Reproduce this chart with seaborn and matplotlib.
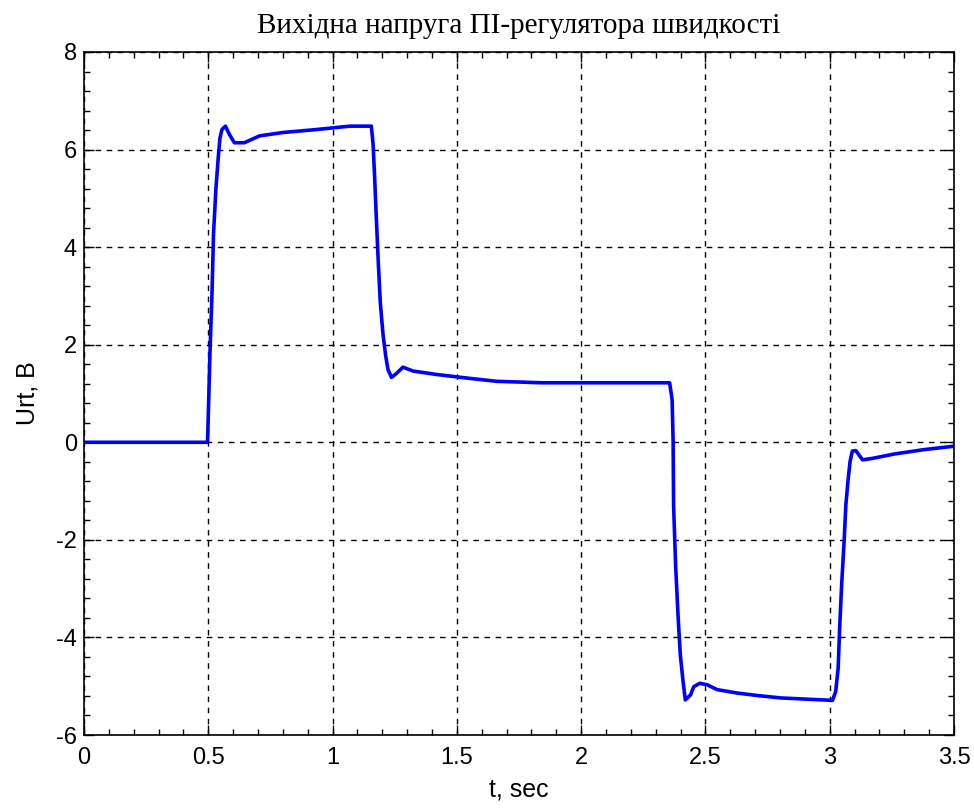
import matplotlib
matplotlib.use("Agg")
import matplotlib.pyplot as plt
from matplotlib.ticker import MultipleLocator
import seaborn as sns
import pandas as pd

# Speed PI-controller output voltage, sampled from the simulation trace
t_sec = [0.0, 0.497, 0.501, 0.507, 0.515, 0.521, 0.531, 0.540, 0.547, 0.555,
         0.569, 0.585, 0.605, 0.645, 0.706, 0.800, 0.934, 1.069, 1.156,
         1.163, 1.169, 1.176, 1.184, 1.192, 1.203, 1.214, 1.223, 1.237,
         1.257, 1.283, 1.324, 1.418, 1.552, 1.660, 1.840, 2.356,
         2.366, 2.370, 2.372, 2.380, 2.390, 2.399, 2.410, 2.419, 2.440,
         2.453, 2.477, 2.507, 2.547, 2.628, 2.708, 2.802, 3.011,
         3.024, 3.034, 3.040, 3.048, 3.058, 3.065, 3.074, 3.082, 3.091,
         3.105, 3.132, 3.172, 3.260, 3.380, 3.500]
u_volt = [0.0, 0.0, 0.74, 1.87, 3.06, 4.27, 5.22, 5.83, 6.24, 6.41,
          6.48, 6.31, 6.14, 6.14, 6.28, 6.35, 6.41, 6.48, 6.48,
          6.11, 5.46, 4.60, 3.68, 2.86, 2.21, 1.76, 1.49, 1.33,
          1.41, 1.54, 1.46, 1.39, 1.31, 1.25, 1.22, 1.22,
          0.87, 0.02, -1.31, -2.51, -3.57, -4.36, -4.90, -5.28, -5.18,
          -5.01, -4.94, -4.97, -5.07, -5.14, -5.19, -5.24, -5.29,
          -5.11, -4.63, -3.81, -2.92, -2.02, -1.28, -0.77, -0.39, -0.18,
          -0.17, -0.36, -0.33, -0.24, -0.15, -0.08]

title_text = "Вихідна напруга ПІ-регулятора швидкості"
x_label = "t, sec"
y_label = "Urt, B"

df = pd.DataFrame({"t": t_sec, "u": u_volt})

sns.set_style("white")
plt.rcParams["font.family"] = ["Liberation Sans", "DejaVu Sans"]
plt.rcParams["text.color"] = "black"
plt.rcParams["axes.labelcolor"] = "black"
plt.rcParams["xtick.color"] = "black"
plt.rcParams["ytick.color"] = "black"

fig = plt.figure(figsize=(9.74, 8.08), dpi=100)
ax = fig.add_axes([84 / 974, 1 - 735 / 808, (954 - 84) / 974, (735 - 52) / 808])

sns.lineplot(data=df, x="t", y="u", ax=ax, color=(0, 0, 1), linewidth=2.6,
             estimator=None, sort=False)

ax.set_xlim(0, 3.5)
ax.set_ylim(-6, 8)
ax.xaxis.set_major_locator(MultipleLocator(0.5))
ax.xaxis.set_minor_locator(MultipleLocator(0.1))
ax.yaxis.set_major_locator(MultipleLocator(2))
ax.yaxis.set_minor_locator(MultipleLocator(0.4))
ax.set_xticklabels([f"{v:g}" for v in ax.get_xticks()])
ax.set_yticklabels([f"{v:g}" for v in ax.get_yticks()])

ax.grid(True, which="major", color="black", linestyle=(0, (4, 4)), linewidth=1.0)
ax.tick_params(which="both", direction="in", top=True, right=True,
               bottom=True, left=True, color="black")
ax.tick_params(which="major", length=7, width=1, labelsize=17)
ax.tick_params(axis="x", which="major", pad=9)
ax.tick_params(axis="y", which="major", pad=5)
ax.tick_params(which="minor", length=4, width=1)
for s in ax.spines.values():
    s.set_color("black")
    s.set_linewidth(1.2)

ax.set_title(title_text, family=["Liberation Serif", "DejaVu Serif"],
             fontsize=21, pad=14, color="black")
ax.set_xlabel(x_label, fontsize=18, labelpad=6)
ax.set_ylabel(y_label, fontsize=18, labelpad=12)

fig.savefig("out.png", dpi=100, facecolor="white")
